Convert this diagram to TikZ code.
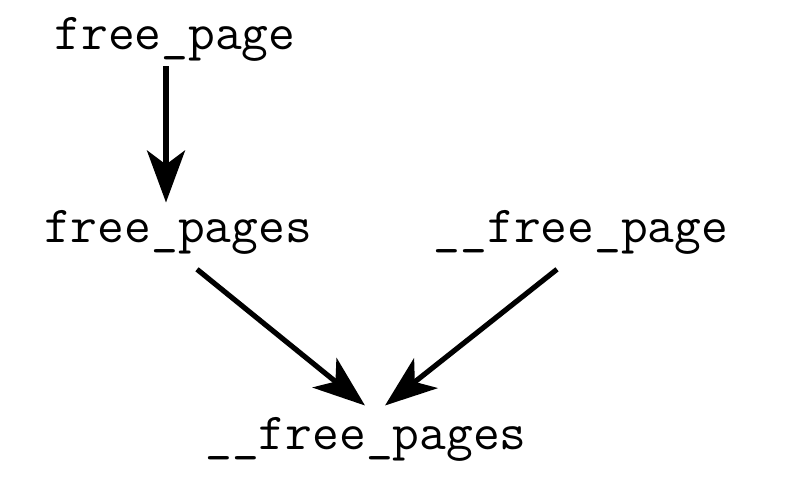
\documentclass[tikz,border=0pt]{standalone}
\usetikzlibrary{arrows.meta}
\begin{document}
\begin{tikzpicture}[x=0.5pt, y=-0.5pt, line join=round,
			>={Stealth[length=26pt, width=19pt, inset=7pt]},
			fname/.style={font=\ttfamily\fontsize{26}{31}\selectfont, anchor=base, inner sep=3pt},
			call/.style={->, line width=2.6pt}
			]
			\useasboundingbox (0,0) rectangle (804,490);
			\node[fname] (fp) at (175,50) {free\_page};
			\node[fname] (fps) at (178,243) {free\_pages};
			\node[fname] (ufp) at (581,243) {\_\_free\_page};
			\node[fname] (ufps) at (366,450) {\_\_free\_pages};
			\draw[call] ([shift={(-9,-2)}]fp.south) -- ([shift={(-12,-2)}]fps.north);
			\draw[call] ([shift={(19,8)}]fps.south) -- ([shift={(-1,-6)}]ufps.north);
			\draw[call] ([shift={(-24,8)}]ufp.south) -- ([shift={(19,-6)}]ufps.north);
\end{tikzpicture}
\end{document}
